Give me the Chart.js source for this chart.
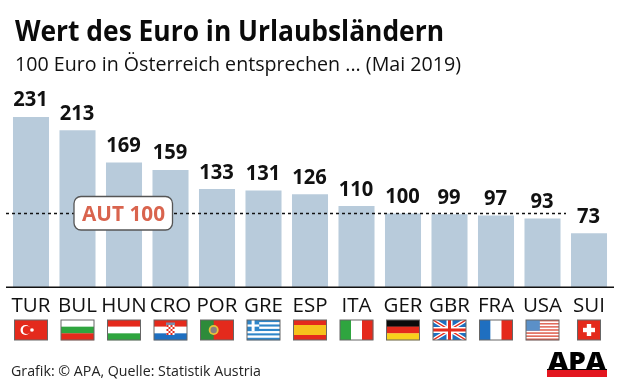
<!DOCTYPE html>
<html><head><meta charset="utf-8">
<style>html,body{margin:0;padding:0;background:#fff}#w{position:relative;width:620px;height:388px}canvas{display:block}</style>
<script src="https://cdn.jsdelivr.net/npm/chart.js@4/dist/chart.umd.min.js"></script>
</head><body><div id="w"><canvas id="c" width="620" height="388"></canvas></div>
<script>
const categories=["TUR","BUL","HUN","CRO","POR","GRE","ESP","ITA","GER","GBR","FRA","USA","SUI"];
const values=[231,213,169,159,133,131,126,110,100,99,97,93,73];
const referenceValue=100;
const referenceLabel="AUT 100";
const titleText="Wert des Euro in Urlaubsländern";
const subtitleText="100 Euro in Österreich entsprechen ... (Mai 2019)";
const sourceText="Grafik: © APA, Quelle: Statistik Austria";
const logoText="APA";
const BAR="#b8cbdb";
const F="'Open Sans'";

function stripes(c,x,y,w,h,cols){cols.forEach((k,i)=>{c.fillStyle=k;c.fillRect(x,y+h*i/cols.length,w,h/cols.length+.2);});}
function vstripes(c,x,y,w,h,cols){cols.forEach((k,i)=>{c.fillStyle=k;c.fillRect(x+w*i/cols.length,y,w/cols.length+.2,h);});}
const R="#e42a1c",G="#2fa53f",W="#ffffff",B="#1f6fc0";
const flags={
TUR(c,x,y,w,h){c.fillStyle=R;c.fillRect(x,y,w,h);c.fillStyle=W;c.beginPath();c.arc(x+11,y+h/2,5,0,7);c.fill();c.fillStyle=R;c.beginPath();c.arc(x+12.3,y+h/2,4,0,7);c.fill();c.fillStyle=W;c.beginPath();c.arc(x+17.5,y+h/2,1.8,0,7);c.fill();},
BUL(c,x,y,w,h){stripes(c,x,y,w,h,[W,G,R]);},
HUN(c,x,y,w,h){stripes(c,x,y,w,h,[R,W,G]);},
CRO(c,x,y,w,h){stripes(c,x,y,w,h,[R,W,B]);c.fillStyle=W;c.fillRect(x+12.5,y+5,8,10);c.fillStyle=R;for(let i=0;i<4;i++)for(let j=0;j<5;j++)if((i+j)%2==0)c.fillRect(x+12.5+i*2,y+5+j*2,2,2);c.fillStyle="#7c8aa8";c.fillRect(x+12,y+2.5,9,2.5);},
POR(c,x,y,w,h){c.fillStyle=R;c.fillRect(x,y,w,h);c.fillStyle="#2e8b3a";c.fillRect(x,y,w*.4,h);c.fillStyle="#e8c33a";c.beginPath();c.arc(x+w*.4,y+h/2,5,0,7);c.fill();c.fillStyle="#8a7f80";c.beginPath();c.arc(x+w*.4,y+h/2,3.2,0,7);c.fill();},
GRE(c,x,y,w,h){const b="#2f86c9";stripes(c,x,y,w,h,[b,W,b,W,b,W,b,W,b]);c.fillStyle=b;c.fillRect(x,y,w*.37,h*5/9);c.fillStyle=W;c.fillRect(x,y+h*2/9,w*.37,h/9);c.fillRect(x+w*.14,y,w*.09,h*5/9);},
ESP(c,x,y,w,h){c.fillStyle=R;c.fillRect(x,y,w,h);c.fillStyle="#f6c21c";c.fillRect(x,y+h/4,w,h/2);},
ITA(c,x,y,w,h){vstripes(c,x,y,w,h,[G,W,R]);},
GER(c,x,y,w,h){stripes(c,x,y,w,h,["#0b0b0b",R,"#f8d21c"]);},
GBR(c,x,y,w,h){c.fillStyle=B;c.fillRect(x,y,w,h);c.save();c.beginPath();c.rect(x,y,w,h);c.clip();c.strokeStyle=W;c.lineWidth=4;c.beginPath();c.moveTo(x,y);c.lineTo(x+w,y+h);c.moveTo(x+w,y);c.lineTo(x,y+h);c.stroke();c.strokeStyle=R;c.lineWidth=1.4;c.stroke();c.strokeStyle=W;c.lineWidth=6;c.beginPath();c.moveTo(x+w/2,y);c.lineTo(x+w/2,y+h);c.moveTo(x,y+h/2);c.lineTo(x+w,y+h/2);c.stroke();c.strokeStyle=R;c.lineWidth=3;c.stroke();c.restore();},
FRA(c,x,y,w,h){vstripes(c,x,y,w,h,[B,W,R]);},
USA(c,x,y,w,h){stripes(c,x,y,w,h,[R,W,R,W,R,W,R,W,R,W,R,W,R].map(k=>k==R?"#e0604f":k));c.fillStyle="#5b90c8";c.fillRect(x,y,w*.42,h*7/13);},
SUI(c,x,y,w,h){c.fillStyle=R;c.fillRect(x,y,w,h);c.fillStyle=W;const m=x+w/2,n=y+h/2;c.fillRect(m-6,n-2.2,12,4.4);c.fillRect(m-2.2,n-6,4.4,12);}
};

function text(c,s,x,y,font,col,width,align,ratio){c.save();c.font=font;c.fillStyle=col;c.textBaseline="alphabetic";c.textAlign="left";
 const m=c.measureText(s).width,k=width?width/m:(ratio||1),w=m*k;
 const left=align==="center"?x-w/2:x;
 c.translate(left,y);c.scale(k,1);c.fillText(s,0,0);c.restore();}

const deco={id:"deco",
 afterDatasetsDraw(ch){
  const c=ch.ctx,xs=ch.scales.x,ys=ch.scales.y,y0=ys.getPixelForValue(0),yr=Math.round(ys.getPixelForValue(referenceValue))+.5;
  c.save();c.strokeStyle="#111";c.lineWidth=1.5;c.beginPath();c.moveTo(6,y0+.3);c.lineTo(614,y0+.3);c.stroke();
  c.strokeStyle="#111";c.lineWidth=1.5;c.setLineDash([3,3]);c.beginPath();c.moveTo(6,yr);c.lineTo(566,yr);c.stroke();c.setLineDash([]);
  c.fillStyle="#fff";c.strokeStyle="#555";c.lineWidth=1.3;c.beginPath();c.roundRect(74,196.5,98.5,33.5,7);c.fill();c.stroke();
  text(c,referenceLabel,123.5,220.7,"bold 20.5px "+F,"#d9644e",83,"center");
  ch.getDatasetMeta(0).data.forEach((b,i)=>{text(c,String(values[i]),b.x-.5,b.y-10.5,"bold 21px "+F,"#111",null,"center",.96);});
  categories.forEach((k,i)=>{const cx=xs.getPixelForTick(i),w=k==="SUI"?23:33,h=20,x=cx-w/2,fy=320;
    flags[k](c,x,fy,w,h);c.strokeStyle="#666";c.lineWidth=1;c.strokeRect(x,fy,w,h);});
  text(c,titleText,15,40.5,"bold 28px "+F,"#0a0a0a",429);
  text(c,subtitleText,15,71,"20.5px "+F,"#111",446);
  text(c,sourceText,11,375.5,"15px "+F,"#222",250);
  c.fillStyle="#e3161f";c.fillRect(547,370,60,7);
  c.fillStyle="#000";c.fillRect(547,369,60,1);
  text(c,logoText,577,370,"800 25px "+F,"#000",58,"center");
  c.restore();
 }};

new Chart(document.getElementById("c"),{type:"bar",
 data:{labels:categories,datasets:[{data:values,backgroundColor:BAR,borderWidth:0,barPercentage:.775,categoryPercentage:1}]},
 plugins:[deco],
 options:{responsive:false,animation:false,
  layout:{padding:{left:7.75,right:7.75,top:103,bottom:0}},
  plugins:{legend:{display:false},tooltip:{enabled:false},title:{display:false}},
  scales:{
   x:{afterFit(s){s.height=101;},grid:{display:false,drawTicks:false},border:{display:false},
      ticks:{color:"#111",font:{family:"Open Sans",size:20.5},padding:7,maxRotation:0,autoSkip:false}},
   y:{display:false,min:0,max:250}
  }}});
</script></body></html>
